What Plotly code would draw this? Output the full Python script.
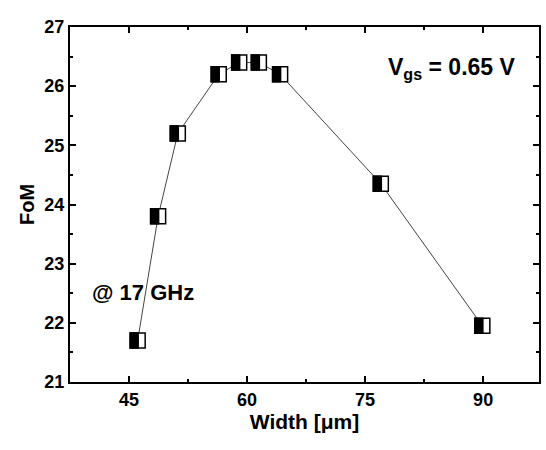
import plotly.graph_objects as go

width_um = [46.1, 48.7, 51.2, 56.4, 59.0, 61.5, 64.2, 77.0, 89.9]
fom = [21.7, 23.8, 25.2, 26.2, 26.4, 26.4, 26.2, 24.35, 21.95]

x_ticks = [45, 60, 75, 90]
y_ticks = [21, 22, 23, 24, 25, 26, 27]

FONT = "Liberation Sans, Arial, sans-serif"

fig = go.Figure()
fig.add_trace(go.Scatter(x=width_um, y=fom, mode="lines",
                         line=dict(color="#444444", width=1), showlegend=False,
                         hoverinfo="skip"))

shapes = []
for xv, yv in zip(width_um, fom):
    # white square with black border
    shapes.append(dict(type="rect", xref="x", yref="y", xsizemode="pixel", ysizemode="pixel",
                       xanchor=xv, yanchor=yv, x0=-7.5, x1=7.5, y0=-7.5, y1=7.5,
                       fillcolor="white", line=dict(color="black", width=1.5)))
    # black left half
    shapes.append(dict(type="rect", xref="x", yref="y", xsizemode="pixel", ysizemode="pixel",
                       xanchor=xv, yanchor=yv, x0=-7.5, x1=0.5, y0=-7.5, y1=7.5,
                       fillcolor="black", line=dict(color="black", width=1.5)))

axis_common = dict(showline=True, linecolor="black", linewidth=2, mirror="ticks",
                   ticks="inside", tickwidth=2, ticklen=6, tickcolor="black",
                   showgrid=False, zeroline=False,
                   tickfont=dict(family=FONT, size=18, color="black", weight="bold"))

fig.update_layout(
    width=546, height=450,
    margin=dict(l=70, r=5, t=27, b=68),
    plot_bgcolor="white", paper_bgcolor="white",
    shapes=shapes,
    xaxis=dict(range=[37.5, 97.1], tickmode="array", tickvals=x_ticks,
               minor=dict(ticks="inside", ticklen=3, tickwidth=2, tickcolor="black", dtick=7.5, tick0=45),
               title=dict(text="Width [μm]", standoff=6,
                          font=dict(family=FONT, size=21, color="black", weight="bold")),
               **axis_common),
    yaxis=dict(range=[21, 27], tickmode="array", tickvals=y_ticks,
               minor=dict(ticks="inside", ticklen=3, tickwidth=2, tickcolor="black", dtick=0.5, tick0=21),
               title=dict(text="FoM", standoff=4,
                          font=dict(family=FONT, size=20, color="black", weight="bold")),
               **axis_common),
    annotations=[
        dict(text="V<sub>gs</sub> = 0.65 V", x=0.955, y=0.93, xref="paper", yref="paper",
             xanchor="right", yanchor="top", showarrow=False,
             font=dict(family=FONT, size=23, color="black", weight="bold")),
        dict(text="@ 17 GHz", x=0.043, y=0.252, xref="paper", yref="paper",
             xanchor="left", yanchor="middle", showarrow=False,
             font=dict(family=FONT, size=22, color="black", weight="bold")),
    ],
)

fig.write_html("out.html")
